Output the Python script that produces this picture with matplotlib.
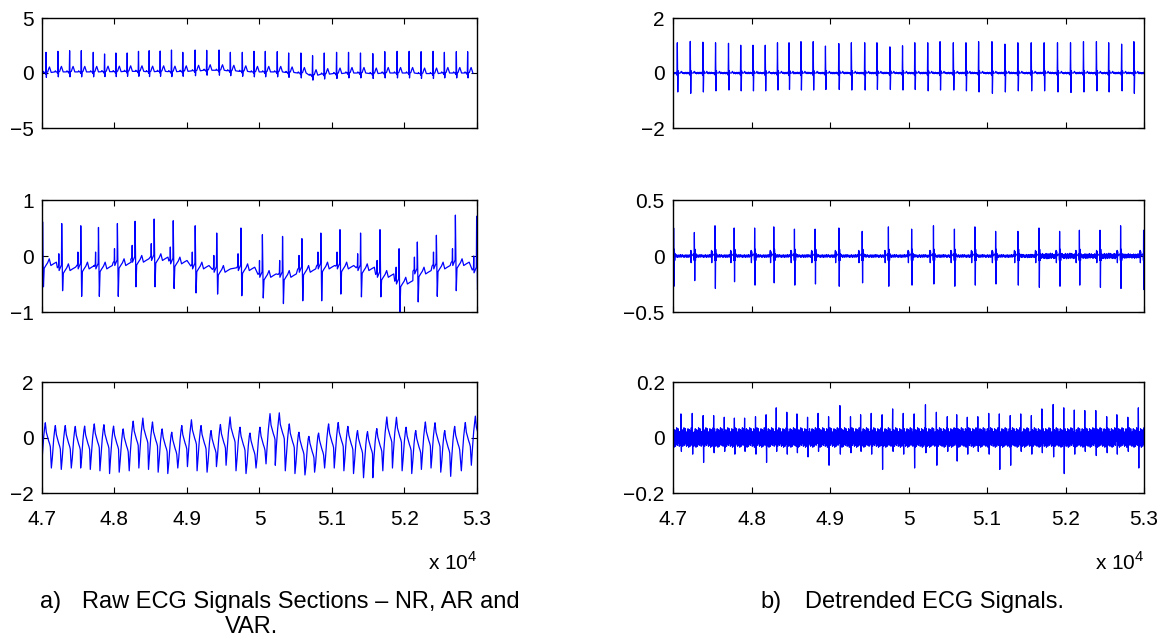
import numpy as np
import matplotlib.pyplot as plt
from matplotlib.ticker import FuncFormatter

plt.rcParams['font.family'] = ['Liberation Sans', 'DejaVu Sans']
plt.rcParams['mathtext.fontset'] = 'custom'
plt.rcParams['mathtext.rm'] = 'Liberation Sans'

# ---------------- NR: normal rhythm ----------------
nr_beats = [47055, 47220, 47381, 47542, 47707, 47863, 48019, 48175, 48331, 48478,
            48630, 48786, 48942, 49112, 49272, 49442, 49598, 49763, 49924, 50080,
            50245, 50402, 50571, 50732, 50893, 51063, 51228, 51393, 51563, 51728,
            51898, 52064, 52229, 52394, 52550, 52715, 52871]
nr_raw_r = [1.88, 1.97, 2.03, 2.03, 1.88, 1.73, 1.82, 1.82, 1.97, 2.03,
            2.0, 2.09, 1.88, 2.09, 2.06, 2.09, 1.88, 1.88, 1.97, 1.97,
            1.94, 1.82, 1.82, 1.58, 1.82, 1.88, 1.88, 1.82, 1.76, 1.94,
            1.97, 1.97, 1.94, 1.97, 1.88, 1.94, 1.94]
nr_base = [0.05, 0.1, 0.1, 0.1, 0.1, 0.12, 0.12, 0.15, 0.15, 0.12,
           0.15, 0.12, 0.15, 0.2, 0.25, 0.25, 0.2, 0.15, 0.1, 0.1,
           0.1, 0.05, 0.0, -0.2, -0.1, -0.05, 0.0, 0.0, -0.05, 0.0,
           0.0, 0.0, -0.05, -0.05, 0.0, 0.0, 0.0]
nr_det_r = [1.10, 1.15, 1.12, 1.10, 1.08, 1.01, 1.01, 1.01, 1.10, 1.10,
            1.14, 1.14, 0.98, 1.07, 1.10, 1.10, 1.10, 0.95, 0.99, 1.10,
            1.10, 1.14, 1.10, 1.10, 1.14, 1.14, 1.05, 1.10, 1.10, 1.10,
            1.10, 1.10, 1.14, 1.14, 1.10, 1.05, 1.14]
nr_det_s = [-0.69, -0.74, -0.69, -0.65, -0.62, -0.65, -0.65, -0.65, -0.62, -0.60,
            -0.62, -0.62, -0.60, -0.60, -0.62, -0.62, -0.60, -0.60, -0.62, -0.60,
            -0.65, -0.62, -0.62, -0.65, -0.69, -0.74, -0.69, -0.65, -0.65, -0.65,
            -0.69, -0.71, -0.69, -0.65, -0.69, -0.65, -0.74]

# ---------------- AR ----------------
ar_beats = [47008, 47272, 47535, 47779, 48040, 48284, 48547, 48810, 49113, 49410,
            49744, 50040, 50318, 50585, 50846, 51110, 51394, 51662, 51925, 52177,
            52440, 52702, 52995]
ar_raw_r = [0.61, 0.58, 0.54, 0.51, 0.58, 0.62, 0.66, 0.63, 0.54, 0.41,
            0.50, 0.38, 0.35, 0.31, 0.41, 0.47, 0.41, 0.47, 0.13, 0.25,
            0.37, 0.73, 0.71]
ar_raw_s = [-0.55, -0.62, -0.72, -0.72, -0.72, -0.55, -0.55, -0.58, -0.66, -0.68,
            -0.71, -0.75, -0.85, -0.80, -0.80, -0.68, -0.73, -0.73, -1.0, -0.82,
            -0.72, -0.62, -0.6]
ar_base = [-0.17, -0.26, -0.23, -0.23, -0.17, -0.11, -0.08, -0.14, -0.23, -0.29,
           -0.26, -0.38, -0.38, -0.29, -0.23, -0.23, -0.26, -0.38, -0.5, -0.32,
           -0.23, -0.17, -0.3]
ar_det_r = [0.25, 0.21, 0.27, 0.25, 0.25, 0.26, 0.24, 0.24, 0.25, 0.22,
            0.26, 0.24, 0.27, 0.24, 0.26, 0.22, 0.22, 0.25, 0.22, 0.23,
            0.23, 0.27, 0.23]
ar_det_s = [-0.27, -0.22, -0.29, -0.23, -0.26, -0.24, -0.26, -0.25, -0.27, -0.24,
            -0.27, -0.26, -0.25, -0.27, -0.26, -0.25, -0.26, -0.28, -0.27, -0.26,
            -0.28, -0.29, -0.3]
ar_det_noise = [0.012, 0.012, 0.012, 0.012, 0.012, 0.012, 0.012, 0.012, 0.012, 0.012,
                0.012, 0.012, 0.012, 0.012, 0.012, 0.012, 0.015, 0.025, 0.025, 0.022,
                0.025, 0.02, 0.02]

# ---------------- VAR ----------------
var_peaks_t = [47046, 47184, 47321, 47459, 47588, 47721, 47854, 47987, 48120, 48258,
               48391, 48524, 48657, 48790, 48928, 49061, 49194, 49332, 49461, 49594,
               49731, 49869, 50007, 50145, 50273, 50411, 50544, 50682, 50815, 50953,
               51086, 51219, 51352, 51490, 51618, 51756, 51889, 52022, 52155, 52288,
               52421, 52555, 52692, 52839, 52977]
var_peaks_v = [0.53, 0.43, 0.43, 0.40, 0.41, 0.49, 0.46, 0.41, 0.31, 0.59,
               0.70, 0.56, 0.31, 0.19, 0.43, 0.64, 0.43, 0.25, 0.47, 0.74,
               0.37, 0.16, 0.37, 0.86, 0.89, 0.49, 0.19, 0.04, 0.16, 0.49,
               0.54, 0.40, 0.25, 0.21, 0.32, 0.74, 0.73, 0.37, 0.25, 0.56,
               0.53, 0.25, 0.40, 0.54, 0.77]
var_troughs = [-0.8, -1.1, -1.15, -1.1, -1.1, -1.15, -1.2, -1.3, -1.25, -1.2,
               -1.1, -1.15, -1.25, -1.3, -1.1, -1.05, -1.2, -1.25, -1.05, -1.0,
               -1.2, -1.3, -1.1, -0.95, -1.0, -1.2, -1.3, -1.35, -1.25, -1.1,
               -1.1, -1.2, -1.3, -1.45, -1.45, -1.2, -1.1, -1.2, -1.3, -1.15,
               -1.1, -1.25, -1.4, -1.2, -1.0]
var_det_t = [47101, 47245, 47384, 47518, 47653, 47782, 47912, 48051, 48186, 48315,
             48450, 48579, 48714, 48848, 48982, 49126, 49261, 49390, 49525, 49664,
             49798, 49933, 50072, 50216, 50355, 50494, 50614, 50749, 50883, 51022,
             51157, 51296, 51430, 51565, 51699, 51843, 51978, 52112, 52246, 52386,
             52525, 52654, 52794, 52928]
var_det_up = [0.085, 0.087, 0.079, 0.079, 0.073, 0.07, 0.07, 0.075, 0.082, 0.107,
              0.091, 0.085, 0.073, 0.087, 0.075, 0.115, 0.075, 0.082, 0.087, 0.082,
              0.103, 0.087, 0.085, 0.118, 0.091, 0.075, 0.082, 0.073, 0.075, 0.087,
              0.085, 0.079, 0.085, 0.079, 0.103, 0.119, 0.107, 0.099, 0.097, 0.097,
              0.075, 0.082, 0.073, 0.107]
var_det_dn = [-0.05, -0.06, -0.09, -0.055, -0.05, -0.06, -0.05, -0.06, -0.09, -0.05,
              -0.06, -0.055, -0.07, -0.05, -0.1, -0.06, -0.055, -0.05, -0.06, -0.115,
              -0.05, -0.06, -0.11, -0.055, -0.1, -0.05, -0.085, -0.06, -0.05, -0.06,
              -0.115, -0.1, -0.05, -0.06, -0.055, -0.07, -0.13, -0.06, -0.05, -0.065,
              -0.055, -0.06, -0.05, -0.11]

# hand-typed ripple used for the noise band of the detrended traces
jitter = [0.6, -0.8, 0.3, -0.4, 0.9, -0.2, 0.5, -1.0, 0.1, -0.6, 0.8, -0.3, 0.4, -0.9,
          0.7, -0.1, 0.2, -0.7, 1.0, -0.5, 0.3, -0.8, 0.6, -0.2, 0.9, -0.4, 0.1, -0.6,
          0.5, -0.9, 0.4]

# beat shapes: offset (samples) and level relative to the local baseline
nr_raw_dt = [-45, -36, -28, -12, -5, 0, 5, 10, 24, 38, 48, 58, 72]
nr_raw_dv = [0.0, 0.1, 0.0, 0.0, -0.15, 'R', -0.45, 0.0, 0.05, 0.35, 0.5, 0.3, 0.0]
nr_det_dt = [-10, -4, 0, 6, 11, 16, 40, 50, 62]
nr_det_dv = [0.0, -0.08, 'R', 'S', 0.08, 0.0, 0.0, 0.06, 0.0]
ar_raw_dt = [-60, -44, -40, -36, -10, -4, 0, 12, 22, 45, 70, 92, 115, 150, 190]
ar_raw_dv = [0.05, 0.08, 0.3, 0.0, 0.08, 0.1, 'R', 'S', -0.05, 0.0, 0.05, 0.12, 0.0, 0.03, 0.06]
ar_det_dt = [-50, -44, -41, -38, -35, -6, -2, 0, 5, 9, 14, 20, 28]
ar_det_dv = [0.0, 0.05, -0.06, 0.04, 0.0, 0.02, -0.04, 'R', 'S', 0.06, -0.04, 0.02, 0.0]
var_raw_dt = [-55, -41, -23, -9, 0, 14, 32, 46, 60, 69]
var_raw_dv = ['S', -0.7, -0.05, 0.3, 'R', 0.12, -0.06, -0.19, -0.3, -0.4]
var_det_dt = [-3, 0, 3, 6, 9]
var_det_dv = [0.0, 'R', -0.01, 'S', 0.0]


def place(beats, dts, dvs, r, s, base):
    t, v = [], []
    for i, b in enumerate(beats):
        for dt, dv in zip(dts, dvs):
            t.append(b + dt)
            if dv == 'R':
                v.append(r[i])
            elif dv == 'S':
                v.append(s[i])
            else:
                v.append(base[i] + dv)
    return np.array(t, float), np.array(v, float)


def add_band(t, v, beats, dts, amps, step):
    nt = np.arange(46900, 53100, step, dtype=float)
    keep = np.ones(len(nt), bool)
    for b in beats:
        keep &= ~((nt > b + dts[0]) & (nt < b + dts[-1]))
    idx = np.clip(np.searchsorted(beats, nt) - 1, 0, len(beats) - 1)
    nv = np.asarray(amps)[idx] * np.resize(jitter, len(nt))
    tt = np.concatenate([t, nt[keep]])
    vv = np.concatenate([v, nv[keep]])
    order = np.argsort(tt, kind='stable')
    return tt[order], vv[order]


zeros_nr = [0.0] * len(nr_beats)
zeros_ar = [0.0] * len(ar_beats)
zeros_var = [0.0] * len(var_det_t)
var_shift = [0.8 * (a - 0.45) for a in var_peaks_v]

sig_nr_raw = place(nr_beats, nr_raw_dt, nr_raw_dv, nr_raw_r, None, nr_base)
sig_nr_det = place(nr_beats, nr_det_dt, nr_det_dv, nr_det_r, nr_det_s, zeros_nr)
sig_nr_det = add_band(*sig_nr_det, nr_beats, nr_det_dt, [0.03] * len(nr_beats), 4)
sig_ar_raw = place(ar_beats, ar_raw_dt, ar_raw_dv, ar_raw_r, ar_raw_s, ar_base)
sig_ar_det = place(ar_beats, ar_det_dt, ar_det_dv, ar_det_r, ar_det_s, zeros_ar)
sig_ar_det = add_band(*sig_ar_det, ar_beats, ar_det_dt, ar_det_noise, 4)
sig_var_raw = place(var_peaks_t, var_raw_dt, var_raw_dv, var_peaks_v, var_troughs, var_shift)
sig_var_det = place(var_det_t, var_det_dt, var_det_dv, var_det_up, var_det_dn, zeros_var)
sig_var_det = add_band(*sig_var_det, var_det_t, var_det_dt, [0.035] * len(var_det_t), 3)

panels = [
    [(sig_nr_raw, (-5, 5), [-5, 0, 5]), (sig_nr_det, (-2, 2), [-2, 0, 2])],
    [(sig_ar_raw, (-1, 1), [-1, 0, 1]), (sig_ar_det, (-0.5, 0.5), [-0.5, 0, 0.5])],
    [(sig_var_raw, (-2, 2), [-2, 0, 2]), (sig_var_det, (-0.2, 0.2), [-0.2, 0, 0.2])],
]

W, H = 1169, 642
rows_px = [(18, 128), (200, 312), (382, 493)]
cols_px = [(42, 477), (673, 1144)]

fig = plt.figure(figsize=(W / 100, H / 100), dpi=100)
yfmt = FuncFormatter(lambda y, _: ('%g' % y).replace('-', '\u2212'))
xfmt = FuncFormatter(lambda x, _: '%g' % (x / 1e4))

for r, (y0, y1) in enumerate(rows_px):
    for c, (x0, x1) in enumerate(cols_px):
        (t, v), ylim, yt = panels[r][c]
        ax = fig.add_axes([x0 / W, 1 - y1 / H, (x1 - x0) / W, (y1 - y0) / H])
        ax.plot(t, v, color='#0000ff', lw=0.9)
        ax.set_xlim(47000, 53000)
        ax.set_ylim(*ylim)
        ax.set_xticks(np.arange(47000, 53001, 1000))
        ax.set_yticks(yt)
        ax.yaxis.set_major_formatter(yfmt)
        ax.xaxis.set_major_formatter(xfmt)
        ax.tick_params(direction='in', top=True, right=True, length=4.5, width=0.8,
                       labelsize=15, colors='black')
        ax.tick_params(axis='y', pad=6)
        ax.tick_params(axis='x', pad=12)
        if r < 2:
            ax.tick_params(labelbottom=False)
        for sp in ax.spines.values():
            sp.set_linewidth(1.0)
        if r == 2:
            fig.text(x1 / W, 1 - 570 / H, r'x 10$^{4}$', ha='right', va='baseline',
                     fontsize=15)

cap = 17
fig.text(40 / W, 1 - 608 / H, 'a)', fontsize=cap, va='baseline')
fig.text(82 / W, 1 - 608 / H, 'Raw ECG Signals Sections \u2013 NR, AR and', fontsize=cap,
         va='baseline')
fig.text(252 / W, 1 - 633 / H, 'VAR.', fontsize=cap, va='baseline', ha='center')
fig.text(760 / W, 1 - 608 / H, 'b)', fontsize=cap, va='baseline')
fig.text(805 / W, 1 - 608 / H, 'Detrended ECG Signals.', fontsize=cap, va='baseline')

fig.savefig('out.png', dpi=100)
